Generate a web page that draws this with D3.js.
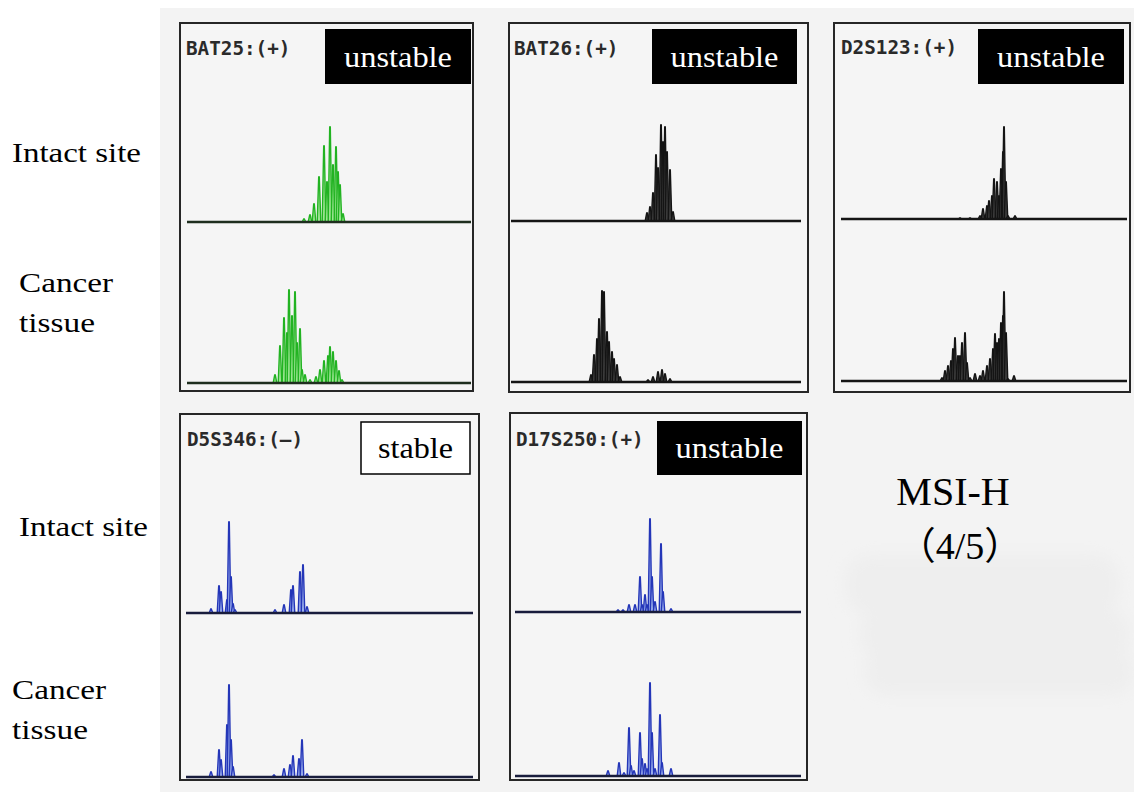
<!DOCTYPE html>
<html>
<head>
<meta charset="utf-8">
<script src="https://cdn.jsdelivr.net/npm/d3@7"></script>
<style>
  body { margin: 0; background: #fff; }
  svg { display: block; }
</style>
</head>
<body>
<svg id="chart" width="1134" height="792"></svg>
<script>
// ---- data: peak position (size units from trace start), peak height (relative fluorescence, 0-100)
var markers = ["BAT25:(+)", "BAT26:(+)", "D2S123:(+)", "D5S346:(\u2013)", "D17S250:(+)"];
var calls = ["unstable", "unstable", "unstable", "stable", "unstable"];
var dyes = ["green", "black", "black", "blue", "blue"];
var rowLabels = [["Intact site"], ["Cancer", "tissue"]];
var summaryLabel = "MSI-H";
var summaryRatio = "\uff084/5\uff09";

var bat25Intact = [[117,3],[123,7],[127,18],[132,45],[137,76],[140,40],[143,95],[146,57],[149,75],[151,50],[153,37],[156,8]];
var bat25Cancer = [[88,8],[93,37],[97,65],[100,50],[102,93],[105,67],[108,91],[110,40],[113,54],[115,13],[118,8],[123,3],[129,6],[133,13],[137,22],[141,27],[143,36],[146,31],[149,22],[152,12],[155,3]];

var bat26Intact = [[136,8],[139,14],[142,28],[145,66],[147,53],[150,96],[152,79],[154,94],[156,69],[159,51],[162,9]];
var bat26Cancer = [[80,7],[83,27],[86,43],[88,63],[91,91],[93,90],[96,50],[98,40],[101,30],[103,23],[106,17],[109,5],[137,2],[142,5],[147,10],[151,12],[154,8],[159,3]];

var d2s123Intact = [[119,1],[129,1],[139,3],[142,10],[146,13],[148,18],[151,23],[153,40],[156,37],[158,23],[160,50],[162,67],[163,92],[165,37],[167,3],[174,3]];
var d2s123Cancer = [[101,3],[104,10],[107,15],[110,20],[112,32],[114,43],[117,25],[119,25],[121,38],[124,48],[126,18],[129,3],[134,7],[139,5],[142,10],[146,15],[149,22],[152,32],[154,47],[156,38],[158,42],[160,58],[162,65],[163,89],[165,48],[167,2],[173,5]];

var d5s346Intact = [[25,4],[33,27],[35,21],[41,13],[43,91],[45,36],[47,9],[49,3],[89,3],[98,8],[105,23],[107,27],[114,41],[117,48],[121,6]];
var d5s346Cancer = [[25,5],[33,27],[35,17],[41,52],[43,92],[45,37],[47,10],[88,2],[98,8],[104,12],[107,21],[113,18],[116,37],[121,3]];

var d17s250Intact = [[103,2],[108,2],[114,7],[120,7],[125,35],[127,7],[130,17],[132,7],[135,93],[137,35],[140,10],[146,68],[148,20],[156,3]];
var d17s250Cancer = [[93,5],[104,13],[109,3],[114,48],[116,10],[119,5],[125,43],[127,17],[130,12],[132,7],[135,93],[137,43],[140,7],[145,61],[147,13],[156,7]];

var traces = [
  [bat25Intact, bat25Cancer],
  [bat26Intact, bat26Cancer],
  [d2s123Intact, d2s123Cancer],
  [d5s346Intact, d5s346Cancer],
  [d17s250Intact, d17s250Cancer]
];

// ---- layout (pixels)
var panels = [
  {x: 180, y: 23, w: 293, h: 368, bx0: 187, bx1: 471, base: [222, 383], tag: [325, 29, 146, 55], tx: 186, ty: 55},
  {x: 509, y: 23, w: 299, h: 369, bx0: 511, bx1: 801, base: [221, 382], tag: [652, 29, 145, 55], tx: 514, ty: 55},
  {x: 834, y: 23, w: 296, h: 369, bx0: 841, bx1: 1127, base: [219, 381], tag: [978, 29, 146, 55], tx: 841, ty: 54},
  {x: 180, y: 414, w: 299, h: 366, bx0: 186, bx1: 473, base: [613, 777], tag: [361, 422, 109, 52], tx: 187, ty: 446},
  {x: 510, y: 413, w: 297, h: 367, bx0: 515, bx1: 801, base: [612, 776], tag: [657, 421, 145, 54], tx: 516, ty: 446}
];

var dyeStyle = {
  green: {stroke: "#22b322", fill: "#9ee694", base: "#1e2e1e"},
  black: {stroke: "#141414", fill: "#3c3c3c", base: "#151515"},
  blue:  {stroke: "#2436b8", fill: "#98aceb", base: "#181c3c"}
};

var svg = d3.select("#chart");

// scanned figure background
svg.append("rect")
    .attr("x", 160).attr("y", 8)
    .attr("width", 974).attr("height", 784)
    .attr("fill", "#f3f3f3");

// faint smudge in the lower right
var blur = svg.append("defs").append("filter").attr("id", "blur");
blur.append("feGaussianBlur").attr("stdDeviation", 8);
var smudge = svg.append("g").attr("filter", "url(#blur)").attr("fill", "#eeeeee");
smudge.append("rect").attr("x", 845).attr("y", 555).attr("width", 275).attr("height", 60).attr("rx", 25);
smudge.append("rect").attr("x", 860).attr("y", 610).attr("width", 270).attr("height", 50).attr("rx", 22);
smudge.append("rect").attr("x", 865).attr("y", 650).attr("width", 269).attr("height", 45).attr("rx", 20);

panels.forEach(function(p, i) {
  var g = svg.append("g");
  var st = dyeStyle[dyes[i]];

  g.append("rect")
      .attr("x", p.x).attr("y", p.y)
      .attr("width", p.w).attr("height", p.h)
      .attr("fill", "#f5f5f5")
      .attr("stroke", "#262626")
      .attr("stroke-width", 2);

  var x = d3.scaleLinear().domain([0, 290]).range([p.bx0, p.bx0 + 290]);

  traces[i].forEach(function(peaks, r) {
    var y = d3.scaleLinear().domain([0, 100]).range([p.base[r], p.base[r] - 100]);
    var peak = d3.line()
        .x(function(d) { return x(d[0]); })
        .y(function(d) { return y(d[1]); });

    g.append("g").selectAll("path")
        .data(peaks)
      .enter().append("path")
        .attr("d", function(d) {
          return peak([[d[0] - 1.8, 0], [d[0] - 0.3, d[1]], [d[0] + 0.3, d[1]], [d[0] + 1.8, 0]]);
        })
        .attr("fill", st.fill)
        .attr("stroke", st.stroke)
        .attr("stroke-width", 1.4)
        .attr("stroke-linejoin", "miter");

    g.append("line")
        .attr("x1", p.bx0).attr("x2", p.bx1)
        .attr("y1", y(0)).attr("y2", y(0))
        .attr("stroke", st.base)
        .attr("stroke-width", 2.6);
  });

  g.append("text")
      .attr("x", p.tx).attr("y", p.ty)
      .attr("font-family", "DejaVu Sans Mono")
      .attr("font-size", 20)
      .attr("font-weight", "bold")
      .attr("fill", "#2a2a2a")
      .attr("textLength", markers[i].length * 11.6)
      .attr("lengthAdjust", "spacingAndGlyphs")
      .text(markers[i]);

  var stable = calls[i] === "stable";
  g.append("rect")
      .attr("x", p.tag[0]).attr("y", p.tag[1])
      .attr("width", p.tag[2]).attr("height", p.tag[3])
      .attr("fill", stable ? "#fff" : "#000")
      .attr("stroke", "#000")
      .attr("stroke-width", stable ? 1.5 : 0);

  g.append("text")
      .attr("x", p.tag[0] + p.tag[2] / 2)
      .attr("y", p.tag[1] + p.tag[3] / 2 + 10)
      .attr("text-anchor", "middle")
      .attr("font-family", "Liberation Serif")
      .attr("font-size", 29)
      .attr("fill", stable ? "#000" : "#fff")
      .attr("textLength", stable ? 75 : 108)
      .attr("lengthAdjust", "spacingAndGlyphs")
      .text(calls[i]);
});

// row labels on the left
var labelPos = [
  {x: 12, y: [162]}, {x: 19, y: [292, 332]},
  {x: 19, y: [536]}, {x: 12, y: [699, 739]}
];
labelPos.forEach(function(lp, i) {
  var lines = rowLabels[i % 2];
  lines.forEach(function(t, j) {
    svg.append("text")
        .attr("x", lp.x).attr("y", lp.y[j])
        .attr("font-family", "Liberation Serif")
        .attr("font-size", 27)
        .attr("fill", "#000")
        .attr("textLength", t === "Intact site" ? 129 : (t === "Cancer" ? 94 : 76))
        .attr("lengthAdjust", "spacingAndGlyphs")
        .text(t);
  });
});

svg.append("text")
    .attr("x", 953).attr("y", 505)
    .attr("text-anchor", "middle")
    .attr("font-family", "Liberation Serif")
    .attr("font-size", 40)
    .attr("fill", "#000")
    .text(summaryLabel);

svg.append("text")
    .attr("x", 960).attr("y", 559)
    .attr("text-anchor", "middle")
    .attr("font-family", "Liberation Serif, Noto Sans CJK SC")
    .attr("font-size", 38)
    .attr("fill", "#000")
    .text(summaryRatio);
</script>
</body>
</html>
